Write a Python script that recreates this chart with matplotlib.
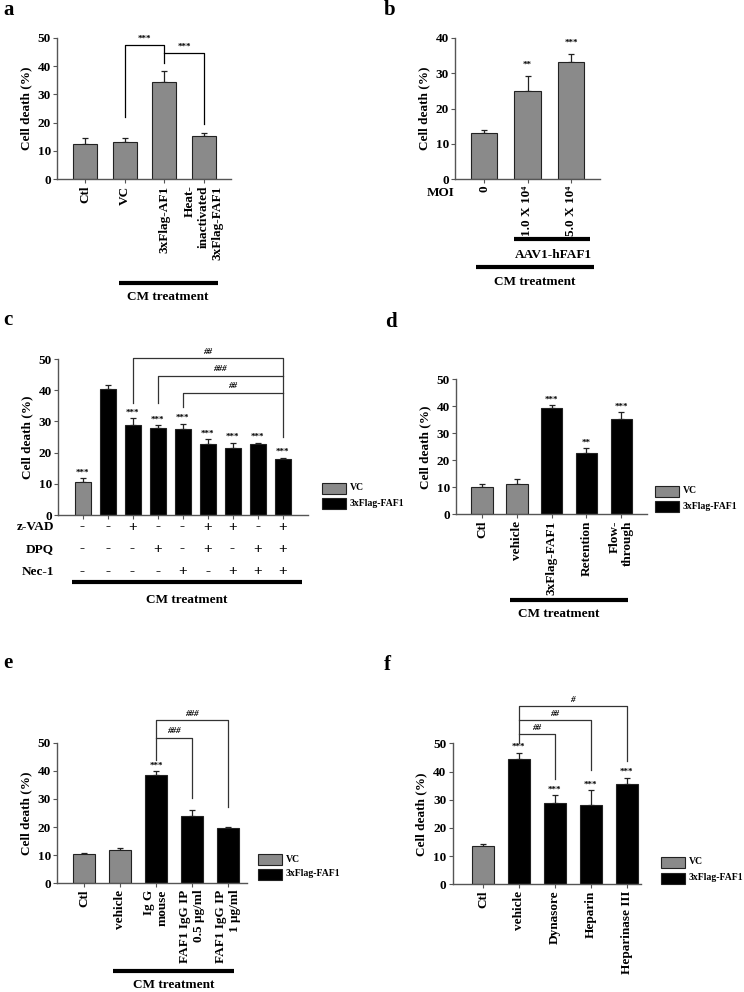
import matplotlib
matplotlib.use("Agg")
import matplotlib.pyplot as plt
from matplotlib.lines import Line2D
from matplotlib.patches import Rectangle

plt.rcParams['font.family'] = ['Liberation Serif', 'DejaVu Serif']
plt.rcParams['font.weight'] = 'bold'

W, H = 744, 992
GRAY = '#8a8a8a'
BLACK = '#000000'
SPINE = '#555555'

# ---------------- data ----------------
a_labels = ['Ctl', 'VC', '3xFlag-AF1', 'Heat-\ninactivated\n3xFlag-FAF1']
a_values = [12.6, 13.2, 34.2, 15.2]
a_err = [1.9, 1.3, 4.2, 1.3]

b_labels = ['0', '1.0 X 10\u2074', '5.0 X 10\u2074']
b_values = [13.0, 25.0, 33.2]
b_err = [0.9, 4.2, 2.1]
b_stars = ['', '**', '***']

c_values = [10.7, 40.5, 28.7, 28.0, 27.6, 22.8, 21.5, 22.7, 17.9]
c_err = [1.2, 1.1, 2.3, 0.7, 1.7, 1.5, 1.7, 0.5, 0.5]
c_group = ['VC', '3xFlag-FAF1', '3xFlag-FAF1', '3xFlag-FAF1', '3xFlag-FAF1',
           '3xFlag-FAF1', '3xFlag-FAF1', '3xFlag-FAF1', '3xFlag-FAF1']
c_stars = ['***', '', '***', '***', '***', '***', '***', '***', '***']
c_zvad = ['-', '-', '+', '-', '-', '+', '+', '-', '+']
c_dpq = ['-', '-', '-', '+', '-', '+', '-', '+', '+']
c_nec = ['-', '-', '-', '-', '+', '-', '+', '+', '+']

d_labels = ['Ctl', 'vehicle', '3xFlag-FAF1', 'Retention', 'Flow-\nthrough']
d_values = [10.0, 11.3, 39.4, 22.8, 35.4]
d_err = [1.1, 1.6, 1.2, 1.8, 2.4]
d_group = ['VC', 'VC', '3xFlag-FAF1', '3xFlag-FAF1', '3xFlag-FAF1']
d_stars = ['', '', '***', '**', '***']

e_labels = ['Ctl', 'vehicle', 'Ig G\nmouse', 'FAF1 IgG IP\n0.5 \u03bcg/ml', 'FAF1 IgG IP\n1 \u03bcg/ml']
e_values = [10.3, 11.7, 38.6, 23.8, 19.8]
e_err = [0.5, 0.7, 1.2, 2.2, 0.1]
e_group = ['VC', 'VC', '3xFlag-FAF1', '3xFlag-FAF1', '3xFlag-FAF1']
e_stars = ['', '', '***', '', '']

f_labels = ['Ctl', 'vehicle', 'Dynasore', 'Heparin', 'Heparinase III']
f_values = [13.6, 44.3, 28.8, 28.1, 35.6]
f_err = [0.8, 2.4, 2.8, 5.2, 2.2]
f_group = ['VC', '3xFlag-FAF1', '3xFlag-FAF1', '3xFlag-FAF1', '3xFlag-FAF1']
f_stars = ['', '***', '***', '***', '***']

legend_labels = ['VC', '3xFlag-FAF1']
colors = {'VC': GRAY, '3xFlag-FAF1': BLACK}

fig = plt.figure(figsize=(W / 100, H / 100), dpi=100)


def make_ax(x0, x1, y_zero, y_top, xlim, ymax, yticks):
    ax = fig.add_axes([x0 / W, 1 - y_zero / H, (x1 - x0) / W, (y_zero - y_top) / H])
    ax.set_xlim(*xlim)
    ax.set_ylim(0, ymax)
    ax.set_yticks(yticks)
    for s in ['top', 'right']:
        ax.spines[s].set_visible(False)
    for s in ['left', 'bottom']:
        ax.spines[s].set_color(SPINE)
        ax.spines[s].set_linewidth(1.0)
    ax.tick_params(axis='both', direction='out', length=3, width=0.8, color=SPINE,
                   labelsize=9.5, pad=1.5)
    ax.set_ylabel('Cell death (%)', fontsize=9.5, fontweight='bold', labelpad=4)
    for t in ax.get_yticklabels():
        t.set_fontweight('bold')
    return ax


def bars(ax, values, err, cols, width):
    x = list(range(len(values)))
    ax.bar(x, values, width=width, color=cols, edgecolor='#222222', linewidth=0.8, zorder=2)
    ax.errorbar(x, values, yerr=[[0] * len(err), err], fmt='none',
                ecolor='#222222', elinewidth=0.9, capsize=2.5, capthick=0.9, zorder=1)
    return x


def stars(ax, values, err, st, fs=6.5, off=0.6):
    for i, (v, e, s) in enumerate(zip(values, err, st)):
        if s:
            ax.text(i, v + e + off, s, ha='center', va='bottom', fontsize=fs, fontweight='bold')


def xlabels(ax, labels, fs=9.5):
    ax.set_xticks(range(len(labels)))
    ax.set_xticklabels(labels, rotation=90, ha='center', va='top', fontsize=fs,
                       fontweight='bold', multialignment='right')


def T(x, y, s, **kw):
    fig.text(x / W, 1 - y / H, s, **kw)


def hline(x1, x2, y, lw=3.0):
    fig.add_artist(Line2D([x1 / W, x2 / W], [1 - y / H, 1 - y / H], lw=lw, color='black',
                          solid_capstyle='butt'))


def bracket(ax, pts, color='#333333', lw=0.9):
    xs = [p[0] for p in pts]
    ys = [p[1] for p in pts]
    ax.plot(xs, ys, color=color, lw=lw, clip_on=False, zorder=3)


def legend(x, y1, y2):
    for lab, y in zip(legend_labels, [y1, y2]):
        fig.add_artist(Rectangle((x / W, 1 - (y + 5.5) / H), 24 / W, 11 / H,
                                 facecolor=colors[lab], edgecolor='#222222', lw=0.8))
        T(x + 28, y, lab, fontsize=7, fontweight='bold', va='center', ha='left')


# ---------------- panel a ----------------
ax = make_ax(57.3, 231, 179.3, 37.7, (-0.71, 3.69), 50, [0, 10, 20, 30, 40, 50])
bars(ax, a_values, a_err, [GRAY] * 4, 0.61)
xlabels(ax, a_labels)
bracket(ax, [(1, 21.9), (1, 47.4), (2, 47.4), (2, 41.0)], color='black')
bracket(ax, [(2, 44.5), (3, 44.5), (3, 19.5)], color='black')
ax.text(1.5, 48.2, '***', ha='center', va='bottom', fontsize=6.5)
ax.text(2.5, 45.3, '***', ha='center', va='bottom', fontsize=6.5)
hline(119, 218, 283)
T(168, 297, 'CM treatment', ha='center', va='center', fontsize=9.5, fontweight='bold')
T(3, 10, 'a', fontsize=15, fontweight='bold', va='center')

# ---------------- panel b ----------------
ax = make_ax(455.3, 599.7, 179.3, 37.7, (-0.66, 2.66), 40, [0, 10, 20, 30, 40])
bars(ax, b_values, b_err, [GRAY] * 3, 0.6)
xlabels(ax, b_labels)
stars(ax, b_values, b_err, b_stars, off=2.0)
T(454, 193, 'MOI', ha='right', va='center', fontsize=9.5, fontweight='bold')
hline(514, 590, 239)
T(553, 255, 'AAV1-hFAF1', ha='center', va='center', fontsize=9.5, fontweight='bold')
hline(476, 594, 267)
T(535, 282, 'CM treatment', ha='center', va='center', fontsize=9.5, fontweight='bold')
T(384, 10, 'b', fontsize=15, fontweight='bold', va='center')

# ---------------- panel c ----------------
ax = make_ax(58, 308, 515, 359, (-0.98, 9.02), 50, [0, 10, 20, 30, 40, 50])
bars(ax, c_values, c_err, [colors[g] for g in c_group], 0.64)
stars(ax, c_values, c_err, c_stars, off=0.5)
ax.set_xticks(range(9))
ax.set_xticklabels([])
bracket(ax, [(2, 35.8), (2, 50.2), (8, 50.2), (8, 24.9)])
bracket(ax, [(3, 35.9), (3, 44.6), (8, 44.6)])
bracket(ax, [(4, 34.7), (4, 39.2), (8, 39.2)])
ax.text(5, 51.0, '##', ha='center', va='bottom', fontsize=6.5, fontstyle='italic')
ax.text(5.5, 45.4, '###', ha='center', va='bottom', fontsize=6.5, fontstyle='italic')
ax.text(6, 40.0, '##', ha='center', va='bottom', fontsize=6.5, fontstyle='italic')
for row, y, name in [(c_zvad, 527, 'z-VAD'), (c_dpq, 549, 'DPQ'), (c_nec, 572, 'Nec-1')]:
    T(54, y, name, ha='right', va='center', fontsize=9.5, fontweight='bold')
    for i, s in enumerate(row):
        ax.annotate(s, xy=(i, 0), xycoords=('data', 'axes fraction'),
                    xytext=(0, -(y - 515) * 0.72), textcoords='offset points',
                    ha='center', va='center', fontsize=11, fontweight='bold')
hline(72, 302, 582)
T(187, 600, 'CM treatment', ha='center', va='center', fontsize=9.5, fontweight='bold')
legend(322, 488, 503)
T(3, 320, 'c', fontsize=15, fontweight='bold', va='center')

# ---------------- panel d ----------------
ax = make_ax(456, 646.7, 514.3, 379.3, (-0.75, 4.73), 50, [0, 10, 20, 30, 40, 50])
bars(ax, d_values, d_err, [colors[g] for g in d_group], 0.61)
stars(ax, d_values, d_err, d_stars, off=0.5)
xlabels(ax, d_labels)
hline(510, 628, 600)
T(559, 614, 'CM treatment', ha='center', va='center', fontsize=9.5, fontweight='bold')
legend(655, 491, 506)
T(385, 322, 'd', fontsize=15, fontweight='bold', va='center')

# ---------------- panel e ----------------
ax = make_ax(57.3, 247, 883.3, 742.7, (-0.74, 4.53), 50, [0, 10, 20, 30, 40, 50])
bars(ax, e_values, e_err, [colors[g] for g in e_group], 0.63)
stars(ax, e_values, e_err, e_stars, off=0.5)
xlabels(ax, e_labels)
bracket(ax, [(2, 44.0), (2, 58.1), (4, 58.1), (4, 27.0)])
bracket(ax, [(2, 51.8), (3, 51.8), (3, 30.5)])
ax.text(3, 58.9, '###', ha='center', va='bottom', fontsize=6.5, fontstyle='italic')
ax.text(2.5, 52.6, '###', ha='center', va='bottom', fontsize=6.5, fontstyle='italic')
hline(113, 234, 971)
T(174, 985, 'CM treatment', ha='center', va='center', fontsize=9.5, fontweight='bold')
legend(258, 859, 874)
T(3, 663, 'e', fontsize=15, fontweight='bold', va='center')

# ---------------- panel f ----------------
ax = make_ax(452.7, 641, 884.3, 743.3, (-0.84, 4.4), 50, [0, 10, 20, 30, 40, 50])
bars(ax, f_values, f_err, [colors[g] for g in f_group], 0.61)
stars(ax, f_values, f_err, f_stars, off=0.5)
xlabels(ax, f_labels)
bracket(ax, [(1, 50.2), (1, 63.3), (4, 63.3), (4, 43.7)])
bracket(ax, [(1, 58.3), (3, 58.3), (3, 40.5)])
bracket(ax, [(1, 53.2), (2, 53.2), (2, 37.2)])
ax.text(2.5, 64.1, '#', ha='center', va='bottom', fontsize=6.5, fontstyle='italic')
ax.text(2.0, 59.1, '##', ha='center', va='bottom', fontsize=6.5, fontstyle='italic')
ax.text(1.5, 54.0, '##', ha='center', va='bottom', fontsize=6.5, fontstyle='italic')
legend(661, 862, 878)
T(384, 665, 'f', fontsize=15, fontweight='bold', va='center')

fig.savefig('out.png', dpi=100)
